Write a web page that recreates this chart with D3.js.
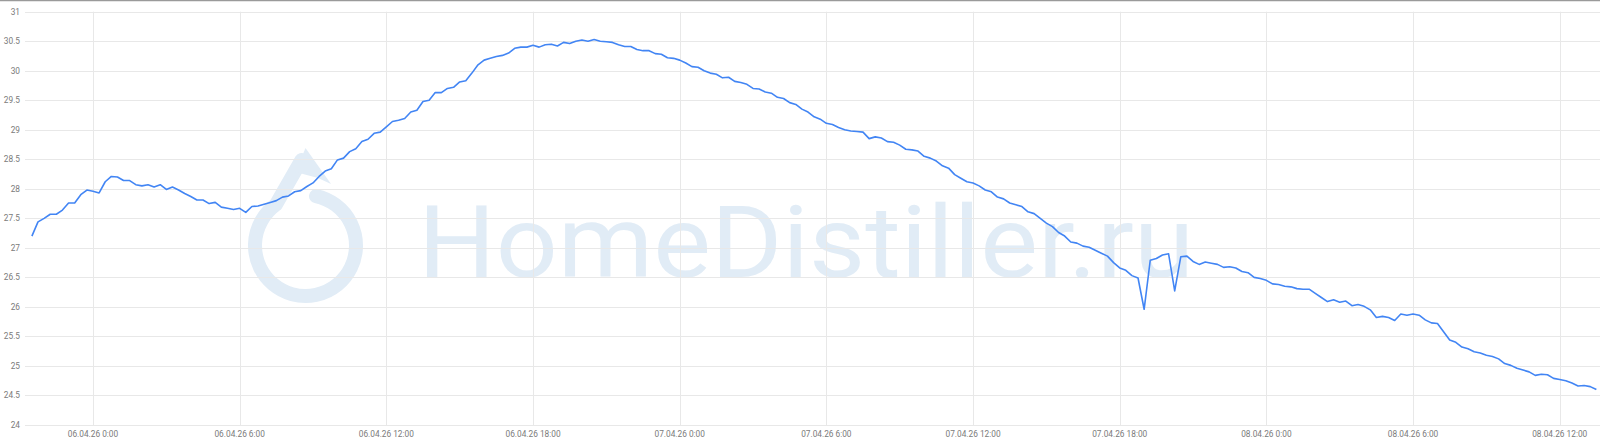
<!DOCTYPE html>
<html><head><meta charset="utf-8">
<script src="https://cdn.jsdelivr.net/npm/d3@7"></script>
<style>html,body{margin:0;padding:0;background:#fff;overflow:hidden}svg{display:block}</style>
</head><body><svg id="c" width="1600" height="447"></svg>
<script>
// ---- data ----
const startTime = Date.UTC(2026, 3, 5, 21, 30); // 05.04.26 21:30
const stepMinutes = 15;
const temps = [
27.20,27.44,27.50,27.57,27.57,27.64,27.76,27.76,27.90,27.98,
27.96,27.93,28.12,28.21,28.20,28.14,28.14,28.07,28.05,28.07,
28.03,28.07,27.99,28.03,27.98,27.92,27.87,27.81,27.81,27.75,
27.77,27.69,27.67,27.65,27.67,27.60,27.70,27.71,27.74,27.77,
27.80,27.86,27.88,27.95,27.97,28.04,28.10,28.21,28.30,28.34,
28.49,28.52,28.63,28.68,28.80,28.84,28.94,28.96,29.05,29.14,
29.16,29.19,29.30,29.33,29.48,29.50,29.63,29.63,29.70,29.72,
29.81,29.83,29.96,30.10,30.18,30.21,30.24,30.26,30.30,30.38,
30.40,30.40,30.43,30.40,30.44,30.45,30.42,30.48,30.46,30.50,
30.52,30.50,30.53,30.50,30.49,30.48,30.44,30.41,30.41,30.36,
30.34,30.34,30.29,30.28,30.22,30.21,30.18,30.13,30.07,30.06,
30.00,29.96,29.94,29.88,29.89,29.82,29.80,29.77,29.70,29.69,
29.64,29.62,29.55,29.53,29.46,29.43,29.35,29.30,29.22,29.18,
29.11,29.09,29.04,29.00,28.98,28.97,28.96,28.85,28.88,28.86,
28.80,28.79,28.74,28.67,28.66,28.64,28.55,28.52,28.47,28.39,
28.35,28.24,28.18,28.12,28.10,28.05,27.98,27.95,27.86,27.83,
27.76,27.73,27.70,27.61,27.58,27.50,27.42,27.36,27.26,27.20,
27.10,27.08,27.03,27.01,26.96,26.91,26.86,26.75,26.66,26.62,
26.53,26.49,25.96,26.79,26.82,26.88,26.90,26.27,26.85,26.86,
26.77,26.72,26.76,26.74,26.72,26.67,26.68,26.66,26.60,26.58,
26.50,26.48,26.45,26.39,26.38,26.35,26.34,26.31,26.30,26.30,
26.23,26.16,26.09,26.12,26.08,26.10,26.02,26.04,26.01,25.95,
25.82,25.84,25.82,25.77,25.88,25.86,25.88,25.86,25.78,25.73,
25.72,25.58,25.44,25.40,25.32,25.29,25.24,25.22,25.18,25.16,
25.12,25.04,25.01,24.96,24.93,24.90,24.84,24.86,24.85,24.79,
24.77,24.75,24.71,24.66,24.67,24.65,24.60
];
const xTickTimes = [
  Date.UTC(2026,3,6,0), Date.UTC(2026,3,6,6), Date.UTC(2026,3,6,12), Date.UTC(2026,3,6,18),
  Date.UTC(2026,3,7,0), Date.UTC(2026,3,7,6), Date.UTC(2026,3,7,12), Date.UTC(2026,3,7,18),
  Date.UTC(2026,3,8,0), Date.UTC(2026,3,8,6), Date.UTC(2026,3,8,12)
];
const xTickLabels = [
  "06.04.26 0:00","06.04.26 6:00","06.04.26 12:00","06.04.26 18:00",
  "07.04.26 0:00","07.04.26 6:00","07.04.26 12:00","07.04.26 18:00",
  "08.04.26 0:00","08.04.26 6:00","08.04.26 12:00"
];
const yTicks = [24,24.5,25,25.5,26,26.5,27,27.5,28,28.5,29,29.5,30,30.5,31];
const yTickLabels = ["24","24.5","25","25.5","26","26.5","27","27.5","28","28.5","29","29.5","30","30.5","31"];
const watermarkText = "HomeDistiller.ru";

// ---- chart ----
const W = 1600, H = 447;
const plot = {left: 25, right: 1600, top: 11.7, bottom: 425};
const svg = d3.select("#c");

const x = d3.scaleUtc()
  .domain([xTickTimes[0], xTickTimes[xTickTimes.length - 1]])
  .range([93, 1559.7]);
const y = d3.scaleLinear().domain([24, 31]).range([plot.bottom, plot.top]);

const series = temps.map((v, i) => ({t: new Date(startTime + i * stepMinutes * 60000), v}));

// top border
svg.append("line").attr("x1", 0).attr("x2", W).attr("y1", 0.5).attr("y2", 0.5)
  .attr("stroke", "#9a9a9a").attr("stroke-width", 1.5);

// watermark
const wmColor = "#e1ecf6";
const wm = svg.append("g").attr("fill", wmColor).attr("stroke", wmColor);
const cx = 305.5, cy = 245.5, rMid = 50.5;
const a0 = 12 * Math.PI / 180, a1 = -36 * Math.PI / 180;
const px = a => cx + rMid * Math.sin(a), py = a => cy - rMid * Math.cos(a);
wm.append("path")
  .attr("d", `M${px(a0)},${py(a0)} A${rMid},${rMid} 0 1 1 ${px(a1)},${py(a1)} L${cx - 4},${160}`)
  .attr("fill", "none").attr("stroke-width", 14).attr("stroke-linecap", "round").attr("stroke-linejoin", "round");
wm.append("path")
  .attr("d", `M${cx},${148} L${331},${184} L${318},${178} L${cx - 10},${172} Z`)
  .attr("stroke", "none");
wm.append("text").attr("x", 418).attr("y", 277)
  .attr("font-family", "Roboto").attr("font-weight", 400).attr("font-size", 101)
  .attr("stroke", "none")
  .attr("textLength", 776).attr("lengthAdjust", "spacingAndGlyphs")
  .text(watermarkText);

// grid
const grid = svg.append("g").attr("stroke", "#e8e8e8").attr("stroke-width", 1);
grid.selectAll("line.h").data(yTicks).join("line")
  .attr("x1", plot.left).attr("x2", plot.right)
  .attr("y1", d => Math.round(y(d)) + 0.5).attr("y2", d => Math.round(y(d)) + 0.5);
grid.selectAll("line.v").data(xTickTimes).join("line")
  .attr("y1", plot.top).attr("y2", plot.bottom)
  .attr("x1", d => Math.round(x(d)) + 0.5).attr("x2", d => Math.round(x(d)) + 0.5);

// y labels
svg.append("g").selectAll("text").data(yTicks).join("text")
  .attr("x", 20).attr("y", d => y(d)).attr("dy", "0.35em")
  .attr("text-anchor", "end").attr("font-family", "Roboto").attr("font-size", 8.3)
  .attr("fill", "#7a7a7a").text((d, i) => yTickLabels[i]);

// x labels
svg.append("g").selectAll("text").data(xTickTimes).join("text")
  .attr("x", d => x(d)).attr("y", 437.2)
  .attr("text-anchor", "middle").attr("font-family", "Roboto").attr("font-size", 8.3)
  .attr("fill", "#7a7a7a").text((d, i) => xTickLabels[i]);

// line
const line = d3.line().x(d => x(d.t)).y(d => y(d.v)).curve(d3.curveLinear);
svg.append("path").datum(series)
  .attr("d", line).attr("fill", "none")
  .attr("stroke", "#4285f4").attr("stroke-width", 1.6).attr("stroke-linejoin", "round");
</script>
</body></html>
